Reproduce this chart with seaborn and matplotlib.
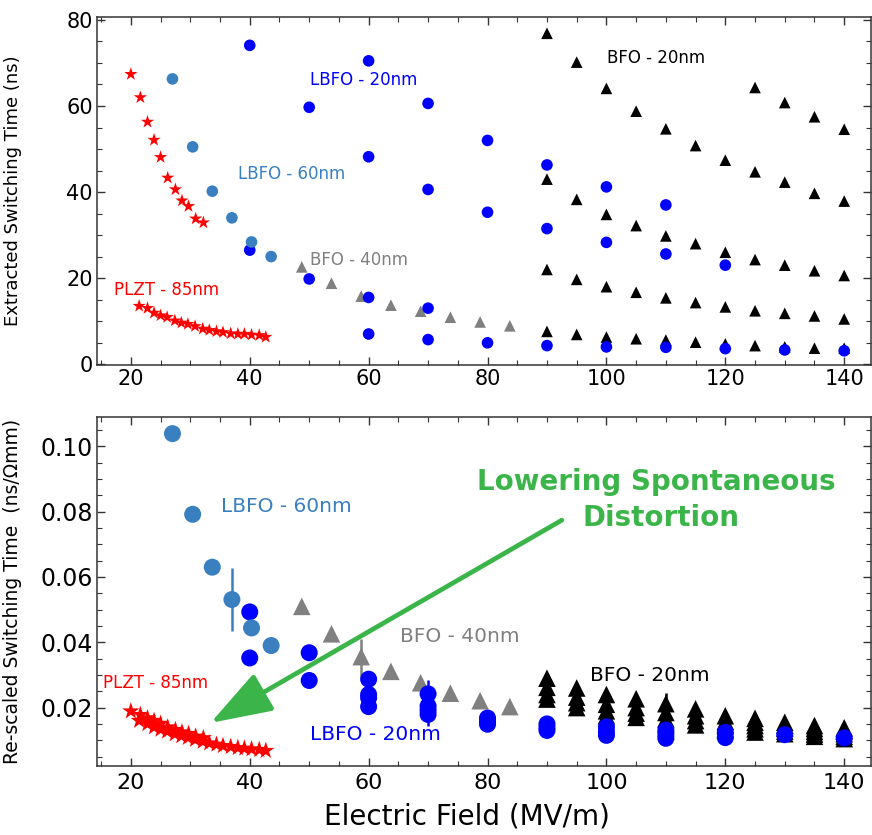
import matplotlib
matplotlib.use("Agg")
import matplotlib.pyplot as plt
import seaborn as sns
from matplotlib.ticker import MultipleLocator, FormatStrFormatter

sns.set_theme(style="ticks")
plt.rcParams['font.family'] = ['DejaVu Sans']
plt.rcParams['axes.labelcolor'] = 'black'
plt.rcParams['text.color'] = 'black'

# ---------------- extracted switching times (ns) ----------------
plzt_hi_x = [20.0, 21.6, 22.8, 23.9, 25.0, 26.2, 27.5, 28.6, 29.7, 30.9, 32.2]
plzt_hi_t = [67.4, 62.0, 56.3, 52.1, 48.1, 43.3, 40.6, 38.0, 36.7, 33.8, 32.9]
plzt_lo_x = [21.4, 22.8, 23.9, 25.0, 26.1, 27.4, 28.5, 29.6, 30.8, 32.1, 33.2,
             34.4, 35.5, 36.8, 38.0, 39.1, 40.3, 41.6, 42.7]
plzt_lo_t = [13.5, 13.0, 11.9, 11.3, 10.9, 10.1, 9.6, 9.3, 8.8, 8.2, 7.9,
             7.6, 7.4, 7.1, 7.0, 7.0, 6.8, 6.7, 6.3]

lbfo60_x = [27.0, 30.4, 33.7, 37.0, 40.3, 43.6]
lbfo60_t = [66.3, 50.5, 40.2, 34.0, 28.4, 25.0]

lbfo20_x = [40, 40, 50, 50, 60, 60, 60, 60, 70, 70, 70, 70, 80, 80, 80,
            90, 90, 90, 100, 100, 100, 110, 110, 110, 120, 120, 130, 140]
lbfo20_t = [74.1, 26.5, 59.7, 19.8, 70.5, 48.2, 15.5, 7.0, 60.6, 40.6, 13.0, 5.7,
            52.0, 35.3, 4.95, 46.3, 31.5, 4.3, 41.2, 28.3, 4.0, 37.0, 25.6, 3.9,
            23.0, 3.6, 3.3, 3.1]

bfo40_x = [48.75, 53.75, 58.75, 63.75, 68.75, 73.75, 78.75, 83.75]
bfo40_t = [22.6, 18.8, 15.8, 13.7, 12.3, 10.9, 9.8, 8.9]

bfo20_x = [90] * 4 + [95] * 4 + [100] * 4 + [105] * 4 + [110] * 4 + [115] * 4 + [120] * 4 \
    + [125] * 5 + [130] * 5 + [135] * 5 + [140] * 5
bfo20_t = [76.9, 43.0, 22.0, 7.6,
           70.2, 38.3, 19.7, 6.9,
           64.1, 34.8, 18.0, 6.3,
           58.8, 32.2, 16.7, 5.9,
           54.7, 29.8, 15.4, 5.6,
           50.8, 28.0, 14.3, 5.1,
           47.4, 26.0, 13.3, 4.7,
           64.3, 44.7, 24.3, 12.4, 4.3,
           60.8, 42.3, 23.0, 11.8, 4.0,
           57.5, 39.7, 21.7, 11.2, 3.7,
           54.6, 37.9, 20.6, 10.5, 3.7]

# ---------------- re-scaled switching times (ns/Ohm mm) ----------------
plzt_hi_r = [0.0189, 0.0178, 0.0168, 0.0160, 0.0151, 0.0140, 0.0132, 0.0125,
             0.0120, 0.0112, 0.0107]
plzt_lo_r = [0.0160, 0.0150, 0.0140, 0.0133, 0.0127, 0.0119, 0.0113, 0.0108,
             0.0102, 0.0096, 0.0091, 0.0087, 0.0083, 0.0080, 0.0077, 0.0075,
             0.0073, 0.0071, 0.0068]

lbfo60_r = [0.1039, 0.0792, 0.0630, 0.0531, 0.0444, 0.0390]

lbfo20_rx = [40, 40, 50, 50, 60, 60, 60, 60, 70, 70, 70, 70, 80, 80, 80,
             90, 90, 90, 100, 100, 100, 110, 110, 110, 120, 120, 130, 140]
lbfo20_r = [0.0493, 0.0352, 0.0368, 0.0283, 0.0287, 0.0240, 0.0230, 0.0203,
            0.0242, 0.0205, 0.0192, 0.0179, 0.0168, 0.0158, 0.0149,
            0.0150, 0.0139, 0.0130, 0.0141, 0.0126, 0.0115,
            0.0131, 0.0117, 0.0106, 0.0124, 0.0108, 0.0117, 0.0107]

bfo40_r = [0.0510, 0.0426, 0.0356, 0.0311, 0.0276, 0.0244, 0.0221, 0.0203]

bfo20_r = [0.0290, 0.0262, 0.0240, 0.0226,
           0.0260, 0.0232, 0.0215, 0.0200,
           0.0240, 0.0210, 0.0190, 0.0175,
           0.0227, 0.0200, 0.0183, 0.0170,
           0.0212, 0.0185, 0.0165, 0.0150,
           0.0196, 0.0175, 0.0160, 0.0147,
           0.0175, 0.0158, 0.0145, 0.0133,
           0.0167, 0.0155, 0.0145, 0.0135, 0.0125,
           0.0155, 0.0146, 0.0137, 0.0128, 0.0120,
           0.0145, 0.0136, 0.0127, 0.0119, 0.0112,
           0.0138, 0.0129, 0.0120, 0.0112, 0.0105]

# error bars on selected re-scaled points
err_x = [37.0, 58.75, 70.0, 110.0]
err_y = [0.0531, 0.0352, 0.0214, 0.0185]
err_half = [0.0095, 0.0059, 0.0069, 0.0060]

C_BLUE = "#0000ff"
C_STEEL = "#3a80c0"
C_GRAY = "#808080"
C_BLACK = "#000000"
C_RED = "#ff0000"
C_GREEN = "#3bb54a"
err_colors = [C_STEEL, C_GRAY, C_BLUE, C_BLACK]

fig = plt.figure(figsize=(8.72, 8.35), dpi=100)
ax1 = fig.add_axes([0.1112, 0.5629, 0.8876, 0.4168])
ax2 = fig.add_axes([0.1112, 0.0826, 0.8876, 0.4180])


def layer(ax, x, y, color, marker, size, z):
    sns.scatterplot(x=x, y=y, ax=ax, color=color, marker=marker, s=size,
                    linewidth=0, edgecolor="none", zorder=z, legend=False)


# top panel
layer(ax1, bfo20_x, bfo20_t, C_BLACK, "^", 70, 3)
layer(ax1, bfo40_x, bfo40_t, C_GRAY, "^", 70, 4)
layer(ax1, lbfo20_x, lbfo20_t, C_BLUE, "o", 70, 5)
layer(ax1, lbfo60_x, lbfo60_t, C_STEEL, "o", 70, 6)
layer(ax1, plzt_hi_x, plzt_hi_t, C_RED, "*", 100, 7)
layer(ax1, plzt_lo_x, plzt_lo_t, C_RED, "*", 100, 7)

# bottom panel
layer(ax2, bfo20_x, bfo20_r, C_BLACK, "^", 160, 3)
layer(ax2, bfo40_x, bfo40_r, C_GRAY, "^", 160, 4)
layer(ax2, lbfo20_rx, lbfo20_r, C_BLUE, "o", 150, 5)
layer(ax2, lbfo60_x, lbfo60_r, C_STEEL, "o", 150, 6)
layer(ax2, plzt_hi_x, plzt_hi_r, C_RED, "*", 170, 7)
layer(ax2, plzt_lo_x, plzt_lo_r, C_RED, "*", 170, 7)
for ex, ey, eh, ec in zip(err_x, err_y, err_half, err_colors):
    ax2.errorbar([ex], [ey], yerr=[eh], fmt="none", ecolor=ec, elinewidth=1.8,
                 capsize=0, zorder=2)

for ax in (ax1, ax2):
    ax.set_xlim(14.3, 144.5)
    ax.xaxis.set_major_locator(MultipleLocator(20))
    ax.xaxis.set_minor_locator(MultipleLocator(5))
    ax.tick_params(which="both", direction="in", top=True, right=True,
                   colors="#333333", labelcolor="black")
    ax.tick_params(which="major", length=6, width=1)
    ax.tick_params(which="minor", length=3.5, width=0.8)
    for sp in ax.spines.values():
        sp.set_color("#333333")
        sp.set_linewidth(1.1)
    ax.set_xlabel("")

ax1.set_ylim(-0.2, 80.7)
ax1.yaxis.set_major_locator(MultipleLocator(20))
ax1.yaxis.set_minor_locator(MultipleLocator(5))
ax1.tick_params(which="major", labelsize=15, pad=3)
ax1.set_ylabel("Extracted Switching Time (ns)", fontsize=13, color="black")
ax1.yaxis.set_label_coords(-0.097, 0.5)

ax2.set_ylim(0.0021, 0.109)
ax2.yaxis.set_major_locator(MultipleLocator(0.02))
ax2.yaxis.set_minor_locator(MultipleLocator(0.005))
ax2.yaxis.set_major_formatter(FormatStrFormatter("%.2f"))
ax2.tick_params(axis="y", which="major", labelsize=17, pad=3)
ax2.tick_params(axis="x", which="major", labelsize=16, pad=5)
ax2.set_ylabel("Re-scaled Switching Time  (ns/Ωmm)", fontsize=13.5, color="black")
ax2.yaxis.set_label_coords(-0.097, 0.5)
ax2.set_xlabel("Electric Field (MV/m)", fontsize=20, color="black")
ax2.xaxis.set_label_coords(0.478, -0.105)

# series labels, top panel
ax1.text(50.2, 66.0, "LBFO - 20nm", color=C_BLUE, fontsize=12, va="center")
ax1.text(38.1, 44.1, "LBFO - 60nm", color=C_STEEL, fontsize=12, va="center")
ax1.text(50.2, 24.3, "BFO - 40nm", color=C_GRAY, fontsize=12, va="center")
ax1.text(17.2, 17.2, "PLZT - 85nm", color=C_RED, fontsize=12, va="center")
ax1.text(100.1, 71.1, "BFO - 20nm", color=C_BLACK, fontsize=12, va="center")

# series labels, bottom panel
ax2.text(35.2, 0.0817, "LBFO - 60nm", color=C_STEEL, fontsize=14.5, va="center")
ax2.text(65.3, 0.0417, "BFO - 40nm", color=C_GRAY, fontsize=14.5, va="center")
ax2.text(97.2, 0.0297, "BFO - 20nm", color=C_BLACK, fontsize=14.5, va="center")
ax2.text(50.2, 0.0118, "LBFO - 20nm", color=C_BLUE, fontsize=14.5, va="center")
ax2.text(15.3, 0.0276, "PLZT - 85nm", color=C_RED, fontsize=12, va="center")

# trend annotation
ax2.text(108.4, 0.0891, "Lowering Spontaneous", color=C_GREEN, fontsize=20,
         fontweight="bold", ha="center", va="center")
ax2.text(109.2, 0.0781, "Distortion", color=C_GREEN, fontsize=20,
         fontweight="bold", ha="center", va="center")
ax2.annotate("", xy=(33.4, 0.0153), xytext=(92.5, 0.0774),
             arrowprops=dict(arrowstyle="-|>,head_length=1.9,head_width=0.65",
                             mutation_scale=20, color=C_GREEN, lw=3.4,
                             shrinkA=0, shrinkB=0),
             zorder=8)

fig.savefig("out.png", dpi=100)
